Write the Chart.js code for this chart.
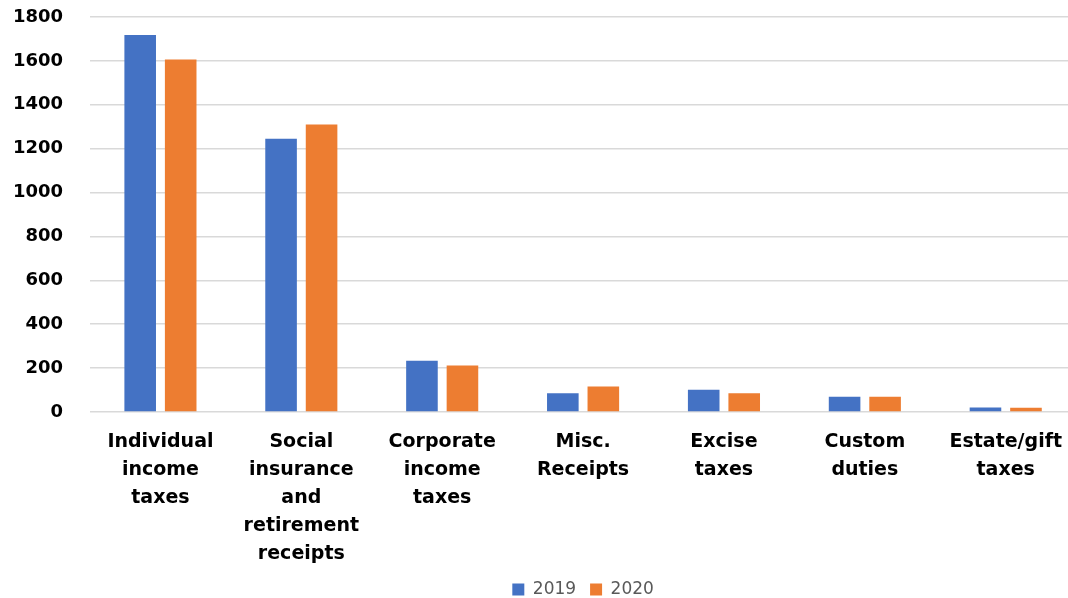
<!DOCTYPE html>
<html lang="en">
<head>
    <meta charset="UTF-8">
    <title>Federal receipts 2019 vs 2020</title>
    <script src="https://cdn.jsdelivr.net/npm/chart.js"></script>
    <style>
        html, body { margin: 0; padding: 0; background: #fff; overflow: hidden; }
        #wrap { width: 1078px; height: 598px; }
    </style>
</head>
<body>
    <div id="wrap"><canvas id="taxChart" width="1078" height="598"></canvas></div>

    <script>
        // data
        const categories = [
            ['Individual', 'income', 'taxes'],
            ['Social', 'insurance', 'and', 'retirement', 'receipts'],
            ['Corporate', 'income', 'taxes'],
            ['Misc.', 'Receipts'],
            ['Excise', 'taxes'],
            ['Custom', 'duties'],
            ['Estate/gift', 'taxes']
        ];
        const values2019 = [1718, 1245, 233, 85, 101, 70, 20];
        const values2020 = [1606, 1310, 212, 116, 85, 69, 19];
        const yTicks = [0, 200, 400, 600, 800, 1000, 1200, 1400, 1600, 1800];

        const ctx = document.getElementById('taxChart').getContext('2d');
        new Chart(ctx, {
            type: 'bar',
            data: {
                labels: categories,
                datasets: [
                    {
                        label: '2019',
                        data: values2019,
                        backgroundColor: '#4472C4',
                        barPercentage: 0.78,
                        categoryPercentage: 0.575
                    },
                    {
                        label: '2020',
                        data: values2020,
                        backgroundColor: '#ED7D31',
                        barPercentage: 0.78,
                        categoryPercentage: 0.575
                    }
                ]
            },
            options: {
                responsive: false,
                animation: false,
                layout: { padding: { top: 0, left: 10, right: 0, bottom: -10 } },
                plugins: {
                    tooltip: { enabled: false },
                    legend: {
                        position: 'bottom',
                        fullSize: false,
                        labels: {
                            boxWidth: 12,
                            boxHeight: 12,
                            padding: 14,
                            color: '#595959',
                            font: { family: 'DejaVu Sans', size: 17 }
                        }
                    }
                },
                scales: {
                    x: {
                        border: { display: false },
                        grid: { display: false, drawTicks: false },
                        afterFit: s => { s.height = 155; },
                        ticks: {
                            color: '#000',
                            padding: 16,
                            maxRotation: 0,
                            autoSkip: false,
                            font: { family: 'DejaVu Sans', size: 19, weight: 'bold', lineHeight: 1.474 }
                        }
                    },
                    y: {
                        min: 0,
                        max: 1800,
                        afterBuildTicks: axis => { axis.ticks = yTicks.map(v => ({ value: v })); },
                        // keep the wide tick padding from pushing the plot down
                        afterFit: s => { s.width = 80; s.paddingTop = 17; s.paddingBottom = 11; },
                        border: { display: false },
                        grid: { color: '#d9d9d9', lineWidth: 1.5, drawTicks: false },
                        ticks: {
                            color: '#000',
                            padding: 27,
                            callback: v => String(v),
                            font: { family: 'DejaVu Sans', size: 18, weight: 'bold' }
                        }
                    }
                }
            }
        });
    </script>
</body>
</html>
